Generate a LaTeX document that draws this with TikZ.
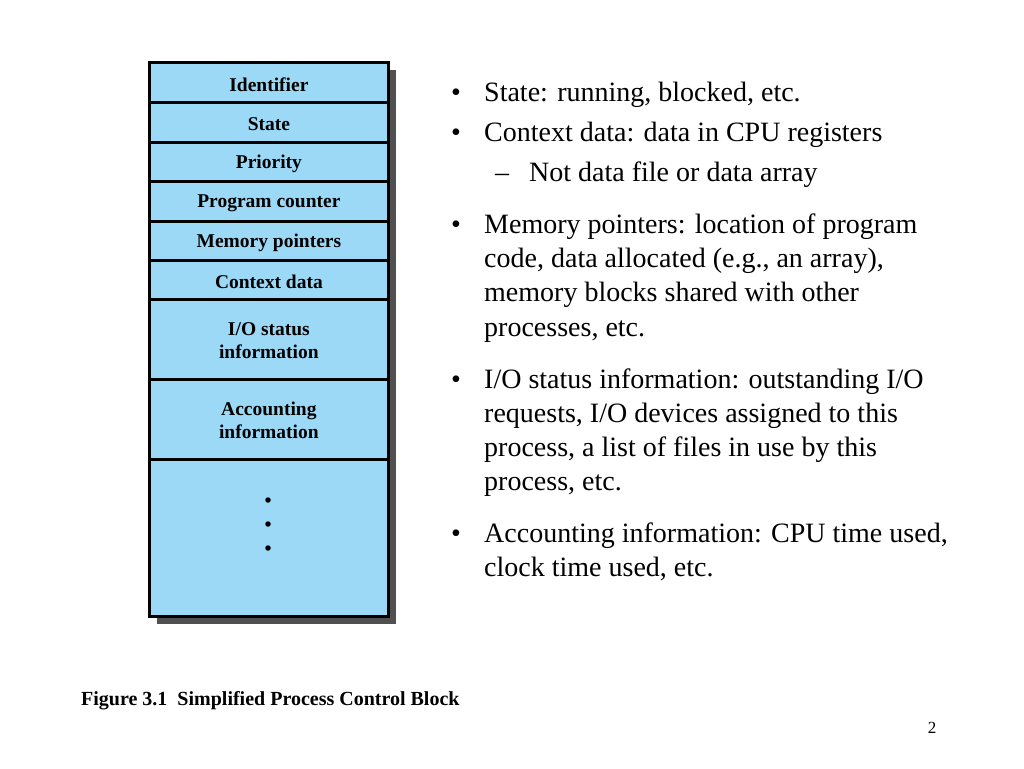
\documentclass[tikz,border=0pt]{standalone}
\usepackage{fontspec}
\setmainfont{Liberation Serif}
\definecolor{pcbblue}{RGB}{155,217,246}
\definecolor{shadowgray}{RGB}{80,80,80}
\begin{document}
\begin{tikzpicture}[x=1pt,y=-1pt,
  row/.style={draw=black, fill=pcbblue, line width=2.8pt, minimum width=239pt,
    inner sep=0pt, anchor=north west},
  lbl/.style={inner sep=0pt, align=center, font=\fontsize{19.5}{23}\selectfont\bfseries},
  txt/.style={anchor=base west, inner sep=0pt, font=\fontsize{28}{32}\selectfont},
  bul/.style={anchor=base, inner sep=0pt, font=\fontsize{28}{32}\selectfont},
  dot/.style={circle, fill=black, inner sep=0pt, minimum size=5.5pt}]
\useasboundingbox[fill=white] (0,0) rectangle (1024,768);
% shadow
\fill[shadowgray] (157,70) rectangle (396,624);
% rows
\node[row, minimum height=40pt] (r1) at (148,61) {};
\node[row, minimum height=40pt] (r2) at (148,101) {};
\node[row, minimum height=39pt] (r3) at (148,141) {};
\node[row, minimum height=40pt] (r4) at (148,180) {};
\node[row, minimum height=39pt] (r5) at (148,220) {};
\node[row, minimum height=39pt] (r6) at (148,259) {};
\node[row, minimum height=80pt] (r7) at (148,298) {};
\node[row, minimum height=80pt] (r8) at (148,378) {};
\node[row, minimum height=157pt] (r9) at (148,458) {};
\node[lbl] (l1) at ([yshift=-2pt]r1.center) {Identifier};
\node[lbl] (l2) at ([yshift=-2pt]r2.center) {State};
\node[lbl] (l3) at ([yshift=-2pt]r3.center) {Priority};
\node[lbl] (l4) at ([yshift=-2pt]r4.center) {Program counter};
\node[lbl] (l5) at ([yshift=-2pt]r5.center) {Memory pointers};
\node[lbl] (l6) at ([yshift=-2pt]r6.center) {Context data};
\node[lbl] (l7) at ([yshift=-1pt]r7.center) {I/O status\\information};
\node[lbl] (l8) at ([yshift=-1pt]r8.center) {Accounting\\information};
\node[dot] (d1) at (268,500) {};
\node[dot] (d2) at (268,524) {};
\node[dot] (d3) at (268,548) {};
% caption
\node[anchor=base west, inner sep=0pt, font=\fontsize{20}{23}\selectfont\bfseries] (cap) at (81,705)
  {Figure 3.1\ \ Simplified Process Control Block};
% page number
\node[anchor=base, inner sep=0pt, font=\fontsize{17}{20}\selectfont] (pg) at (932,733) {2};
% bullets
\node[bul] (b1) at (456,101) {•};
\node[txt] (t1) at (484,101) {State: running, blocked, etc.};
\node[bul] (b2) at (456,141) {•};
\node[txt] (t2) at (484,141) {Context data: data in CPU registers};
\node[bul] (b2a) at (502,181) {–};
\node[txt] (t2a) at (529,181) {Not data file or data array};
\node[bul] (b3) at (456,233) {•};
\node[txt] (t3a) at (484,233) {Memory pointers: location of program};
\node[txt] (t3b) at (484,267.5) {code, data allocated (e.g., an array),};
\node[txt] (t3c) at (484,301.8) {memory blocks shared with other};
\node[txt] (t3d) at (484,336) {processes, etc.};
\node[bul] (b4) at (456,388) {•};
\node[txt] (t4a) at (484,388) {I/O status information: outstanding I/O};
\node[txt] (t4b) at (484,422) {requests, I/O devices assigned to this};
\node[txt] (t4c) at (484,456.5) {process, a list of files in use by this};
\node[txt] (t4d) at (484,490.5) {process, etc.};
\node[bul] (b5) at (456,542) {•};
\node[txt] (t5a) at (484,542) {Accounting information: CPU time used,};
\node[txt] (t5b) at (484,576) {clock time used, etc.};
\end{tikzpicture}
\end{document}
